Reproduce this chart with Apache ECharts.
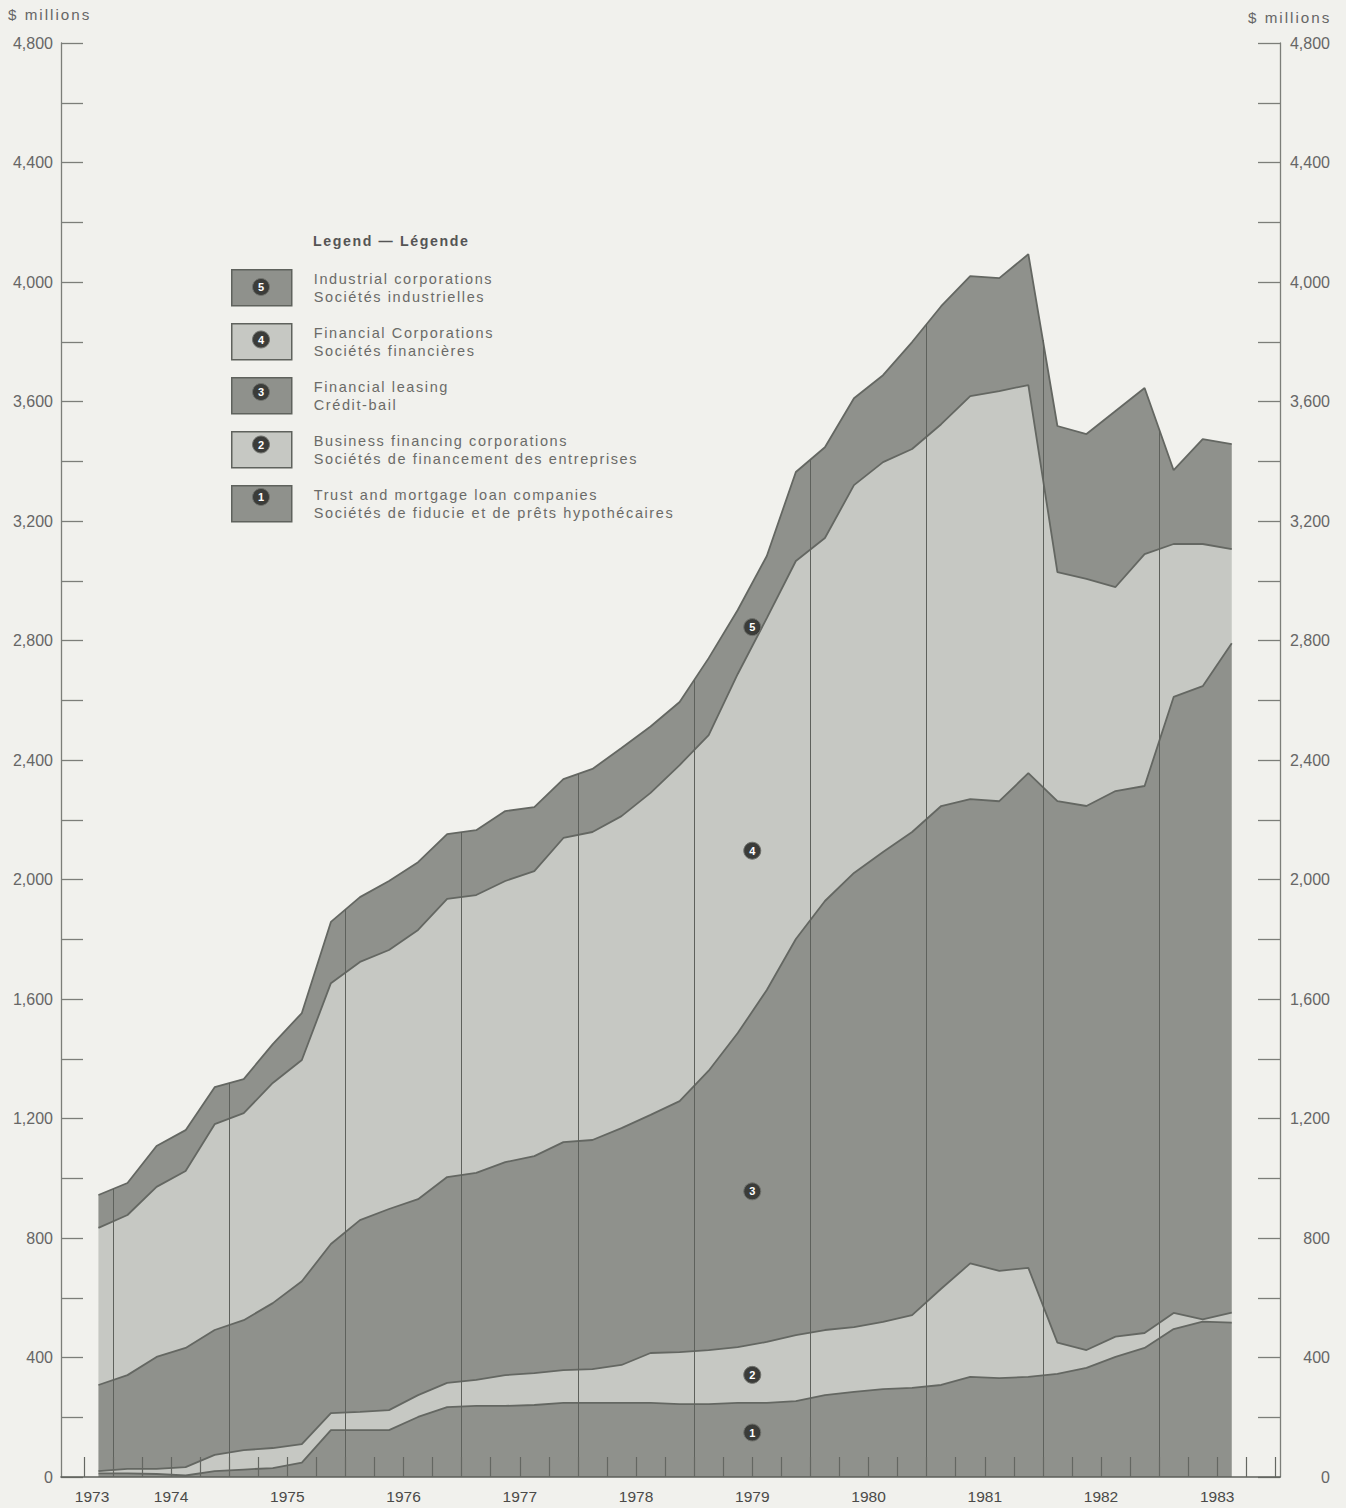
<!DOCTYPE html>
<html>
<head>
<meta charset="utf-8">
<title>Assets by lender group</title>
<script src="https://cdn.jsdelivr.net/npm/echarts@6/dist/echarts.min.js"></script>
<style>
  html, body { margin: 0; padding: 0; background: #f1f1ed; }
  #chart { width: 1346px; height: 1508px; }
  /* the printed original uses wide tracking */
  #chart text[style*="14.5px"] { letter-spacing: 1.6px; }
  #chart text[style*="15.2px"] { letter-spacing: 2px; }
  #chart text[style*="14.2px"] { letter-spacing: 1.6px; }
</style>
</head>
<body>
<div id="chart"></div>
<script>
// quarterly observations, 1973 Q4 to 1983 Q3 ($ millions)
const firstYear = 1973
const firstQuarter = 4
const pointCount = 40

const trustMortgage = [12, 12, 10, 5, 20, 25, 30, 48, 157, 157, 157, 201, 234, 238, 238, 241, 248, 248, 248, 248,
  244, 244, 248, 248, 254, 274, 285, 294, 298, 308, 335, 331, 335, 345, 365, 402, 432, 495, 520, 517]
const businessFinancing = [8, 15, 17, 28, 54, 65, 67, 62, 57, 61, 67, 73, 81, 87, 103, 107, 110, 113, 127, 167,
  174, 181, 187, 204, 221, 218, 217, 225, 244, 322, 380, 359, 365, 105, 60, 68, 50, 54, 8, 33]
const financialLeasing = [288, 314, 375, 399, 418, 435, 485, 545, 566, 642, 673, 656, 689, 693, 713, 726, 763, 767, 793, 797,
  840, 935, 1051, 1178, 1326, 1436, 1520, 1573, 1617, 1616, 1554, 1572, 1656, 1812, 1821, 1826, 1831, 2062, 2119, 2241]
const financialCorps = [526, 536, 569, 592, 689, 693, 737, 741, 873, 864, 867, 901, 931, 930, 941, 954, 1018, 1031, 1044, 1078,
  1125, 1123, 1202, 1245, 1265, 1215, 1298, 1305, 1282, 1278, 1349, 1373, 1299, 767, 760, 683, 776, 512, 476, 315]
const industrialCorps = [110, 107, 137, 137, 124, 114, 130, 157, 205, 217, 231, 227, 217, 217, 234, 214, 197, 211, 228, 222,
  211, 258, 214, 208, 298, 304, 291, 291, 358, 395, 402, 378, 438, 489, 485, 589, 556, 247, 351, 351]

const yearLabels = ['1973', '1974', '1975', '1976', '1977', '1978', '1979', '1980', '1981', '1982', '1983']
const seriesNames = [
  ['Trust and mortgage loan companies', 'Sociétés de fiducie et de prêts hypothécaires'],
  ['Business financing corporations', 'Sociétés de financement des entreprises'],
  ['Financial leasing', 'Crédit-bail'],
  ['Financial Corporations', 'Sociétés financières'],
  ['Industrial corporations', 'Sociétés industrielles']
]
const seriesValues = [trustMortgage, businessFinancing, financialLeasing, financialCorps, industrialCorps]

const dark = '#8f918c'
const light = '#c6c8c3'
const edge = '#646762'
const fills = [dark, light, dark, light, dark]
const font = '"Liberation Sans", Arial, sans-serif'

// x position of each quarter = middle of the quarter, in years
const xs = []
for (let i = 0; i < pointCount; i++) {
  const q = firstQuarter - 1 + i
  xs.push(firstYear + Math.floor(q / 4) + ((q % 4) + 0.5) / 4)
}

// cumulative tops of each band
const cumul = []
seriesValues.forEach((arr, s) => {
  cumul.push(arr.map((v, i) => v + (s > 0 ? cumul[s - 1][i] : 0)))
})
const total = cumul[cumul.length - 1]

function interp(arr, x) {
  for (let i = 0; i < xs.length - 1; i++) {
    if (x >= xs[i] && x <= xs[i + 1]) {
      const t = (x - xs[i]) / (xs[i + 1] - xs[i])
      return arr[i] + t * (arr[i + 1] - arr[i])
    }
  }
  return 0
}

// year boundary rules, drawn only inside the shaded area
const yearLines = []
for (let y = 1974; y <= 1983; y++) {
  yearLines.push([{ coord: [y, 0] }, { coord: [y, interp(total, y)] }])
}

const quarterTicks = []
for (let t = 1973.75; t <= 1984; t += 0.25) quarterTicks.push(t)
const labelPos = yearLabels.map((y, i) => i === 0 ? 1973.82 : Number(y) + 0.5)

// numbered markers sit in mid 1979, at this height inside each band
const badgeX = 1979.5
const badgeFrac = [0.6, 0.48, 0.46, 0.44, 0.3]

const series = seriesValues.map((arr, s) => {
  const lo = s > 0 ? interp(cumul[s - 1], badgeX) : 0
  const hi = interp(cumul[s], badgeX)
  return {
    name: seriesNames[s][0],
    type: 'line',
    stack: 'total',
    symbol: 'none',
    // value first so that the stack works on the y dimension
    data: arr.map((v, i) => [v, xs[i]]),
    encode: { x: 1, y: 0 },
    itemStyle: { color: fills[s] },
    lineStyle: { color: edge, width: 1.8 },
    areaStyle: { color: fills[s], opacity: 1 },
    markPoint: {
      symbol: 'circle',
      symbolSize: 17,
      silent: true,
      itemStyle: { color: '#3b3c39', borderColor: '#70726d', borderWidth: 1 },
      label: { show: true, formatter: String(s + 1), color: '#fff', fontSize: 11, fontWeight: 'bold', fontFamily: font },
      data: [{ coord: [badgeX, lo + (hi - lo) * badgeFrac[s]] }]
    },
    markLine: s === 0 ? {
      silent: true,
      symbol: ['none', 'none'],
      label: { show: false },
      lineStyle: { color: '#5e615c', width: 1, type: 'solid' },
      data: yearLines
    } : undefined
  }
})

const legendLeft = 231
const legendTop = 269
const legendItemH = 36
const legendGap = 16.5
const legendOrder = [4, 3, 2, 1, 0]

const badges = legendOrder.map((s, k) => ({
  type: 'group',
  x: legendLeft + 30,
  y: legendTop + legendItemH / 2 + k * (legendItemH + legendGap),
  z: 100,
  children: [
    { type: 'circle', z: 100, shape: { cx: 0, cy: 0, r: 8.5 }, style: { fill: '#3b3c39', stroke: '#70726d', lineWidth: 1 } },
    { type: 'text', z: 101, style: { text: String(s + 1), x: 0, y: 0, align: 'center', verticalAlign: 'middle', fill: '#fff', fontSize: 11, fontWeight: 'bold', fontFamily: font } }
  ]
}))

const yAxisBase = {
  type: 'value',
  min: 0,
  max: 4800,
  interval: 200,
  axisLine: { show: true, lineStyle: { color: '#7c7e79', width: 1.3 } },
  axisTick: { show: true, inside: true, length: 22, lineStyle: { color: '#7c7e79', width: 1.3 } },
  splitLine: { show: false }
}
const tickLabel = v => (v % 400 === 0 ? v.toLocaleString('en-US') : '')

const option = {
  backgroundColor: '#f1f1ed',
  animation: false,
  textStyle: { fontFamily: font },
  grid: { left: 61, right: 66, top: 43, bottom: 31 },
  legend: {
    orient: 'vertical',
    left: legendLeft,
    top: legendTop,
    padding: 0,
    icon: 'rect',
    itemWidth: 60,
    itemHeight: legendItemH,
    itemGap: legendGap,
    selectedMode: false,
    data: legendOrder.map(s => seriesNames[s][0]),
    itemStyle: { borderColor: '#5f625d', borderWidth: 1.5 },
    formatter: name => {
      const pair = seriesNames.find(p => p[0] === name)
      return pair[0] + '\n' + pair[1]
    },
    textStyle: { fontSize: 14.5, lineHeight: 18, color: '#6b6b68', fontFamily: font, padding: [0, 0, 0, 17] }
  },
  xAxis: {
    type: 'value',
    min: 1973.553,
    max: 1984.04,
    z: 10,
    axisLine: { show: true, onZero: false, lineStyle: { color: '#5c5f5a', width: 1.6 } },
    axisTick: { show: true, inside: true, length: 20, customValues: quarterTicks, lineStyle: { color: '#646762', width: 1.2 } },
    axisLabel: {
      customValues: labelPos,
      formatter: v => String(Math.floor(v)),
      margin: 11,
      fontSize: 15.5,
      color: '#4a4a48',
      fontFamily: font
    },
    splitLine: { show: false }
  },
  yAxis: [
    Object.assign({}, yAxisBase, {
      position: 'left',
      axisLabel: { formatter: tickLabel, margin: 8, fontSize: 16, color: '#666', fontFamily: font }
    }),
    Object.assign({}, yAxisBase, {
      position: 'right',
      axisLabel: { formatter: tickLabel, margin: 50, align: 'right', fontSize: 16, color: '#666', fontFamily: font }
    })
  ],
  graphic: [
    { type: 'text', left: 8, top: 7, style: { text: '$ millions', fontSize: 15.2, fill: '#666', fontFamily: font } },
    { type: 'text', left: 1248, top: 10, style: { text: '$ millions', fontSize: 15.2, fill: '#666', fontFamily: font } },
    { type: 'text', left: 313, top: 234, style: { text: 'Legend — Légende', fontSize: 14.2, fontWeight: 'bold', fill: '#555', fontFamily: font } }
  ].concat(badges),
  series: series
}

const chart = echarts.init(document.getElementById('chart'), null, { renderer: 'svg' })
chart.setOption(option)
</script>
</body>
</html>
